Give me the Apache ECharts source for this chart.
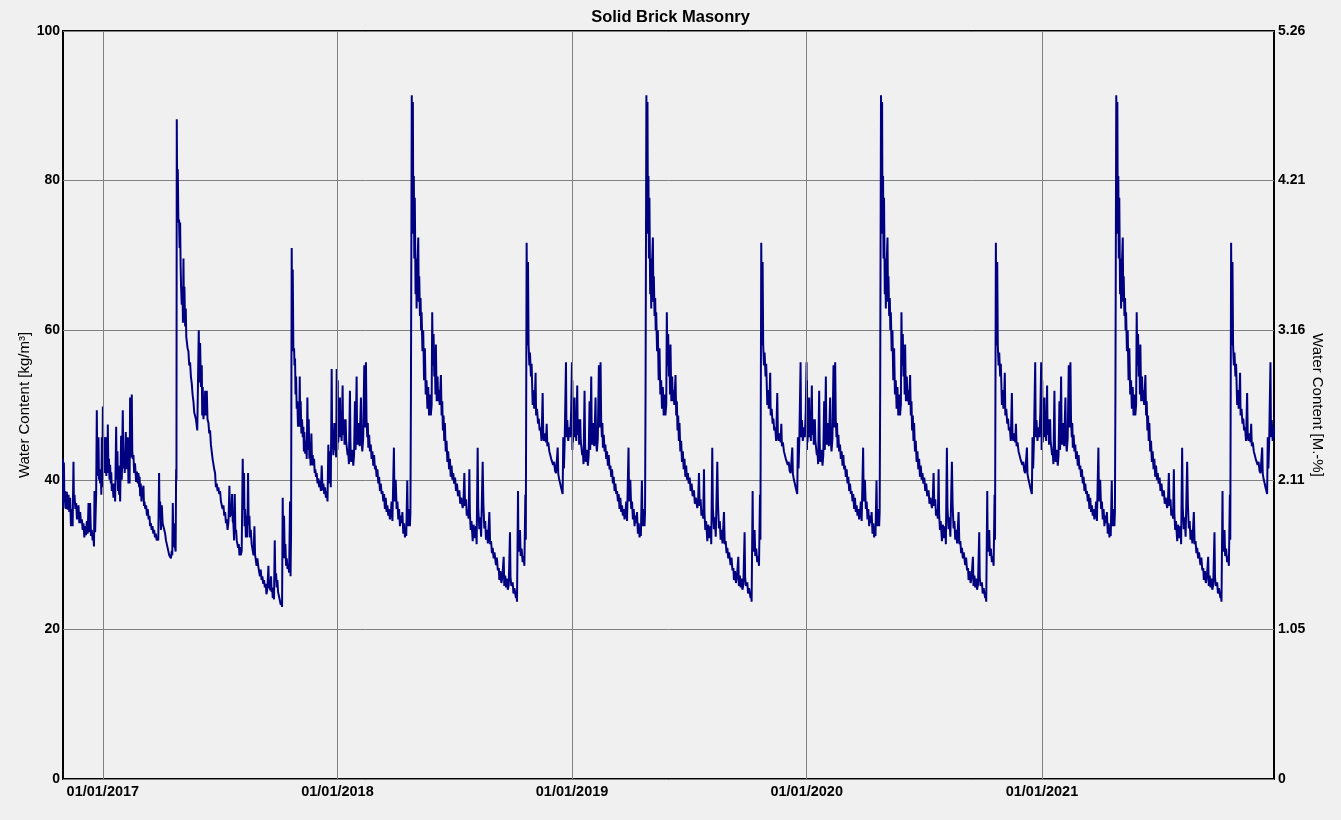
<!DOCTYPE html>
<html>
<head>
<meta charset="utf-8">
<script src="https://cdn.jsdelivr.net/npm/echarts@6/dist/echarts.min.js"></script>
<style>
html,body{margin:0;padding:0;background:#f0f0f0;}
#chart{width:1341px;height:820px;}
</style>
</head>
<body>
<div id="chart"></div>
<script>
// ---------------- DATA ----------------
const chartTitle = 'Solid Brick Masonry';
const leftAxisName = 'Water Content [kg/m³]';
const rightAxisName = 'Water Content [M.-%]';
const xStart = '2016-10-31';
const xEnd = '2021-12-28';
const yearTickDates = ['2017-01-01', '2018-01-01', '2019-01-01', '2020-01-01', '2021-01-01'];
const rightTickLabels = ['0', '1.05', '2.11', '3.16', '4.21', '5.26'];
const rightAxisMax = 5.265;

// [day of year (from 1 Jan 2017), water content kg/m³] — first simulated year (incl. Nov/Dec 2016)
const year2017 = [[-62.5,37],[-62,42.8],[-61.3,36.2],[-60.6,42.3],[-59.8,37],[-58.6,38.5],[-57.5,36.1],[-56,38.4],[-54.7,36],[-53.4,38],[-52.2,35.7],[-50.9,37.6],[-49.6,33.8],[-48.3,36.1],[-47,33.8],[-45.7,42.4],[-45,37],[-44.1,38],[-42.8,36.1],[-41.5,36.9],[-40.2,34.7],[-37.9,36.6],[-36.6,34.2],[-35.3,35.7],[-34,34.2],[-32.7,34.7],[-31.4,33.3],[-30.1,34.2],[-28.8,32.3],[-27.5,33.8],[-26.2,32.6],[-24.9,34.5],[-23.6,32.8],[-22.3,36.9],[-21.5,33],[-20.8,33.3],[-19.8,36.9],[-18.5,32.5],[-17.2,33.3],[-15.9,31.9],[-14.6,32.3],[-13.8,31.1],[-13,38.5],[-12,33],[-10.4,38.2],[-9.4,49.3],[-8.5,40.5],[-7.7,43],[-6.8,45.7],[-6,40],[-5.2,41.4],[-4.2,39.5],[-3.2,41.4],[-2.4,38],[-1.6,45.7],[-0.8,39],[0,49.8],[1,42],[2,45.7],[2.8,40.9],[3.6,44],[4.6,45.7],[5.4,40.5],[6.2,42.5],[7,40.9],[7.7,47.4],[8.6,41.5],[9.5,42.8],[10.3,40],[11.3,42],[12.4,39.5],[13.1,41],[13.9,38.5],[15.2,39.5],[16.5,37.6],[17.8,39.5],[19.1,37.1],[20.7,47.1],[21.5,40],[22.7,43.8],[23.5,38.5],[24.4,41.9],[25.3,38],[26.1,40.4],[26.9,37.1],[28.4,45.9],[29.5,40],[31,49.3],[32,41.5],[33.1,43.8],[34,40.9],[35.7,46.4],[36.5,41.4],[37.3,44.3],[38,41.4],[38.8,45.7],[39.8,39.5],[40.9,41.4],[41.6,39.5],[42.4,51],[43.5,43],[45,51.4],[45.8,43.8],[46.6,42.8],[47.6,43.3],[48.7,40.9],[50,42.2],[51.8,39.7],[53,41.1],[54.4,39.5],[55.4,40.9],[56.4,39],[57.2,40.4],[58,37.8],[59,39.5],[60.1,37.1],[61.5,38.5],[63.2,39.2],[64,36.5],[64.7,37.1],[66,36.1],[67.3,36.6],[68.6,35.2],[69.9,36.1],[71.2,34.7],[72.5,35.2],[73.5,33.8],[74.6,34.2],[75.9,33.3],[77.2,33.8],[78.5,32.8],[79.8,33.3],[81.1,32.3],[82.4,32.8],[83.7,31.9],[85,32.3],[86.2,31.9],[87.5,40.9],[88.3,35],[89.1,37.1],[90.4,33.3],[91.7,36.6],[93,34.2],[94.3,34.2],[95.6,33.3],[96.9,32.8],[98.2,31.9],[99.5,31.9],[100.8,30.9],[102,30.9],[103.3,29.9],[104.6,29.9],[105.9,29.5],[107.2,30.5],[108,29.9],[108.8,36.9],[109.8,31],[110.9,34.2],[111.7,31.4],[112.4,31.4],[113.2,30.4],[114,41.4],[114.5,40],[115,88.2],[115.8,74.8],[116.6,81.5],[117.5,74.4],[118.6,74.8],[119.4,71],[120.2,74.4],[121,68.6],[121.7,65.8],[122.7,63.4],[123.8,65.8],[124.6,61],[125.4,69.6],[126.2,62],[126.9,65.8],[128,60.5],[129,62.9],[129.8,59.1],[130.6,59.1],[131.8,57.6],[133.1,57.2],[134.4,55.3],[135.7,55.7],[137,53.8],[138.3,52.9],[139.6,51.4],[140.9,50.5],[142.2,49],[143.5,49],[144.8,48.1],[146.1,48.1],[146.9,46.6],[147.7,46.4],[149.2,60],[150.2,53],[151.3,58.3],[152.6,52.4],[153.9,55.3],[154.6,48.6],[155.4,52.4],[156.5,48.1],[157.5,49.5],[158.3,48.6],[159.1,51.9],[160.4,48.6],[161.7,51.9],[162.8,48.1],[164.3,47.6],[165.5,46.2],[166.8,46.6],[168.1,44.7],[169.4,44.7],[170.7,42.8],[172,42.8],[173.3,41.4],[174.6,40.9],[175.9,39],[177.2,39.5],[178.5,38.5],[179.8,39],[181.1,38.1],[182.4,38.5],[183.7,37.1],[185,37.3],[186.3,36.1],[187.6,36.6],[188.9,35.2],[190.2,35.7],[191.5,34.2],[192.8,34.7],[194,33.3],[195.5,34.5],[196.9,39.2],[197.8,35],[199,36.6],[200,35.2],[201.1,38.1],[202,34.5],[203.1,34.2],[204.2,31.9],[205.2,38.1],[206.2,33],[207.3,33.3],[208.3,31.9],[209.4,31.9],[210.4,30.9],[211.5,31.4],[212.5,29.9],[213.5,31],[214.5,29.9],[216,30.5],[217.6,42.8],[218.6,36],[219.7,40.9],[220.5,33.8],[221.3,36.1],[222.5,32.3],[223.9,35.2],[224.8,32.3],[225.9,40.9],[226.9,34],[228,35.2],[229,32.3],[230.1,33.3],[231.5,31.4],[233.2,31.4],[234.4,29.9],[235.8,33.8],[236.8,30],[237.9,29.9],[239.2,28.5],[240.4,29.5],[241.7,28.5],[243,28.5],[244.3,27.1],[245.6,28],[246.9,26.6],[248.2,27.1],[249.5,26.1],[250.8,26.6],[252,25.6],[253.4,26.1],[254.5,24.7],[256,25.5],[257.6,28.5],[258.4,25.5],[259.1,26.6],[260.4,25.2],[261.7,27.1],[262.5,25],[263.3,25.6],[264.3,24.2],[265.3,24.7],[266.3,24],[267.4,31.9],[268.4,26.5],[269.5,27.5],[270.5,25.6],[271.5,26.6],[272.6,25],[273.6,25.2],[274.6,24.2],[275.7,24.2],[276.8,23.3],[277.8,23.7],[278.8,23],[279.5,22.8],[279.8,37.6],[280.8,29.5],[281.9,35.2],[283,29.5],[284,31.4],[285,28.5],[286.1,29.5],[287.3,28.1],[288.6,28.5],[289.8,27.6],[291.2,37.1],[292,27.1],[292.8,32.8],[293.8,71],[294.6,57.2],[295.4,68.1],[296.4,57.2],[297.5,57.6],[298.2,55.3],[299,56.2],[299.8,51.4],[300.6,53.8],[301.6,49.5],[302.6,50.5],[303.6,47.1],[304.7,48.6],[305.5,47.1],[306.3,53.8],[307,48],[307.8,50.5],[308.8,46.2],[309.9,48.1],[311,45.7],[312,47.1],[312.8,43.8],[313.5,46.4],[314.8,43.5],[316.1,45.2],[317.2,42.8],[318.2,51],[319.2,44],[320.3,48.1],[321.3,42.8],[322.3,43.8],[323.3,41.9],[324.4,46.2],[325.5,42],[326.5,43.3],[327.5,41.9],[328.6,42.8],[329.6,40.9],[330.6,41.4],[331.6,40.4],[332.7,40.9],[334,39.5],[335.3,40.2],[336.6,39],[337.9,39.9],[339.2,38.5],[340.5,41.9],[341.8,38.6],[343.1,39.5],[344.4,38.1],[345.7,39],[347,37.6],[348.3,38.5],[349.5,37.1],[350.8,44.7],[352,39.5],[353.4,43.8],[354.6,39],[356,54.8],[356.8,45],[357.6,45.7],[358.6,43.3],[360.2,47.6],[361.2,44],[362.2,44.3],[363,43],[363.8,54.8],[364.6,45]];

// [day of year, water content kg/m³] — the simulated climate year repeats; this cycle is read for 2018–2021
const repeatedYear = [[0,44],[0.4,53.3],[1.2,45],[2.5,47.5],[3.9,51],[4.6,45.7],[5.5,47.1],[6.5,45.2],[8,52.6],[8.8,46],[10.1,48.1],[11,44.7],[12.7,48.1],[13.5,45.2],[14.8,45.2],[15.8,43.3],[16.8,43.8],[17.8,42.1],[19.4,51.9],[20.2,45.2],[21,42.4],[22.8,44],[24.6,41.9],[25.8,43.3],[27.2,50.5],[28.2,44],[29.8,53.8],[30.6,45.7],[31.3,44.7],[32.4,46],[33.4,47.6],[34.5,44.5],[36.5,51],[37.4,45.2],[38.6,43.8],[40,45.5],[41.7,55.3],[42.8,47],[44.3,55.7],[45.2,48.1],[46.4,45.7],[47.2,47.6],[48,44.3],[49.3,46],[50.5,43.8],[51.8,44.7],[53.1,42.8],[54.4,43.8],[55.7,41.9],[57,43.3],[58.3,41.4],[59.6,41.9],[60.9,40.4],[62.2,41.4],[63.5,39.5],[64.8,40.4],[66.1,38.5],[67.4,39.5],[68.7,38.1],[70,38.5],[71.3,37.1],[72.5,38.1],[73.8,36.1],[75.1,37.6],[76.4,35.7],[77.7,36.6],[79,35.2],[80.3,36.1],[81.6,34.7],[83,35.5],[84.2,37.1],[85.5,34.5],[87.8,44.3],[88.6,38],[89.4,37.1],[90.6,40],[92,36.1],[93.3,37.1],[94.6,34.7],[95.9,36.1],[97.2,33.8],[98.5,35.2],[99.8,34.2],[101,35.7],[102.4,32.8],[103.7,34.2],[105,32.3],[106,33.3],[107,32.5],[108.6,39.9],[109.4,35],[110.1,33.8],[111.4,36.1],[112.7,33.8],[113.5,35.7],[114.3,51.4],[115.6,91.4],[116.5,78],[117.3,90.5],[118,72.9],[118.8,80.6],[119.5,69.6],[120.3,77.7],[121.5,64.8],[122.3,69.6],[123.1,62.9],[124,67.7],[125.7,72.4],[126.5,63.8],[127.2,67.2],[128.3,61.9],[129.3,64.3],[130.1,60],[130.9,62.4],[132.2,57.2],[133.4,60],[134.7,53.3],[136,57.6],[137.3,51.4],[138.6,53.3],[139.9,49.5],[141.2,52.4],[142.5,48.6],[143.8,51.4],[145.2,48.6],[146.5,50],[147.4,62.4],[148.4,55.3],[149.5,59.5],[150.6,53.8],[151.6,56.2],[152.4,51.4],[153.1,58.1],[154.4,50.5],[155.7,53.8],[156.8,50.5],[157.8,52],[159,50],[160.9,54],[162,48.6],[163,50.5],[164,46.6],[165.1,48.6],[166.1,45.2],[167.1,47.6],[168.4,43.8],[169.7,45.2],[171,42.4],[172.3,43.8],[173.6,41.4],[174.9,42.8],[176.2,40.4],[177.5,41.9],[178.8,40],[180.1,40.9],[181.5,39.5],[183,40.3],[184.4,38.5],[186,39.5],[187.5,37.8],[189.6,38.6],[191,36.8],[192.5,37.6],[194.8,36.2],[196,37],[197.4,40.9],[198.5,36.5],[200,37.4],[201.2,35.2],[202.5,36],[204,34.8],[205.2,41.4],[206,35.5],[207.3,33.3],[208.5,34.5],[210.4,31.8],[211.8,34],[213.2,32.2],[215.5,33.8],[216.5,31.4],[218.1,44.3],[219,36.3],[220.7,33.4],[222,35],[223.5,32.4],[225.9,42.4],[227,36.8],[228.5,33.5],[229.8,34.5],[231.1,32],[232.5,33.3],[234,31.5],[236.3,35.7],[237.5,31.4],[239,31.8],[240.3,30.2],[241.5,30.9],[243,29.5],[244.3,30.3],[246.6,28.6],[248,29.6],[249.5,27.9],[251,28.2],[251.8,26.6],[253.5,27.8],[255,26.2],[256.5,27],[258.6,29.7],[259.5,25.8],[261,27.2],[262.2,25.6],[263.5,26.8],[265,25.3],[266.5,26],[268.4,33],[269.2,27],[270.5,25.8],[272.6,26.3],[273.8,24.8],[275.3,25.5],[277.7,24.2],[278.5,24.8],[279.3,23.7],[280.9,38.5],[281.6,30.4],[282.5,31],[284,33.3],[285,29.8],[286.5,30.8],[288.1,29],[289.5,29.8],[290.8,28.5],[292.3,38],[293,32],[294.3,71.7],[295.2,58],[296.4,69.1],[297.3,58.1],[298.5,55.3],[299.5,57],[301,53.8],[302,55.5],[303.7,50],[305,52],[306,49.5],[307,50.5],[308.2,54.3],[309,48.6],[310.5,49.5],[312,47.5],[313.2,48.2],[314.5,46.6],[316,47],[317.5,45.2],[319.2,51.6],[320.2,45.7],[321.5,45.2],[323,46.2],[324.4,45],[325.5,47.5],[326.5,44.5],[328,45],[329.6,43.8],[331,44],[332.5,42.8],[334,43],[335.5,42],[337,42.4],[338.5,41.2],[340,40.9],[342.6,44.3],[343.5,40.8],[345.1,40],[346.5,39.5],[348,38.9],[350.3,38.1],[351.3,45.7],[352.3,41.5],[353.5,45.2],[355.5,55.7],[356.3,45.7],[357.5,48],[359,45.2],[360.7,47],[362,45.7],[363.5,49],[364.8,55.7],[365.5,44]];

const simulatedYears = [2018, 2019, 2020, 2021];

// ---------------- BUILD ----------------
const DAY = 86400000;
const ts = s => { const p = s.split('-').map(Number); return Date.UTC(p[0], p[1] - 1, p[2]); };
const toPoints = (year, arr) => arr.map(p => [Date.UTC(year, 0, 1) + p[0] * DAY, p[1]]);
let seriesData = toPoints(2017, year2017);
simulatedYears.forEach(y => { seriesData = seriesData.concat(toPoints(y, repeatedYear)); });
const yearTicks = yearTickDates.map(ts);
const pad = n => (n < 10 ? '0' : '') + n;
const fmtDate = v => { const d = new Date(v); return pad(d.getUTCDate()) + '/' + pad(d.getUTCMonth() + 1) + '/' + d.getUTCFullYear(); };

const FONT = '"Liberation Sans", Arial, sans-serif';
const chart = echarts.init(document.getElementById('chart'), null, { renderer: 'canvas' });
chart.setOption({
  backgroundColor: '#f0f0f0',
  animation: false,
  title: {
    text: chartTitle, left: 'center', top: 4,
    textStyle: { fontFamily: FONT, fontSize: 16.5, fontWeight: 'bold', color: '#000' }
  },
  grid: { left: 63, right: 67, top: 31, bottom: 41, show: true, borderColor: '#000', borderWidth: 2, backgroundColor: 'transparent' },
  xAxis: {
    type: 'value', min: ts(xStart), max: ts(xEnd), scale: true,
    axisLine: { show: false }, axisTick: { show: false }, splitLine: { show: false },
    axisLabel: {
      customValues: yearTicks, formatter: v => fmtDate(v), margin: 5,
      fontFamily: FONT, fontSize: 14.5, fontWeight: 'bold', color: '#000'
    }
  },
  yAxis: [{
    type: 'value', min: 0, max: 100, interval: 20, position: 'left',
    name: leftAxisName, nameLocation: 'middle', nameGap: 31, nameRotate: 90, nameMoveOverlap: false,
    nameTextStyle: { fontFamily: FONT, fontSize: 15, color: '#000' },
    axisLine: { show: false }, axisTick: { show: false },
    axisLabel: { margin: 3, fontFamily: FONT, fontSize: 14, fontWeight: 'bold', color: '#000' },
    splitLine: { show: true, lineStyle: { color: '#808080', width: 1 } }
  }, {
    type: 'value', min: 0, max: rightAxisMax, interval: rightAxisMax / 5, position: 'right',
    name: rightAxisName, nameLocation: 'middle', nameGap: 36, nameRotate: -90, nameMoveOverlap: false,
    nameTextStyle: { fontFamily: FONT, fontSize: 15, color: '#000' },
    axisLine: { show: false }, axisTick: { show: false },
    axisLabel: {
      margin: 4, fontFamily: FONT, fontSize: 14, fontWeight: 'bold', color: '#000',
      formatter: v => rightTickLabels[Math.round(v / (rightAxisMax / 5))]
    },
    splitLine: { show: false }
  }],
  series: [{
    type: 'line', data: [], z: 1, silent: true,
    markLine: {
      silent: true, symbol: 'none', animation: false,
      label: { show: false },
      lineStyle: { color: '#808080', width: 1, type: 'solid' },
      data: yearTicks.map(t => ({ xAxis: t }))
    }
  }, {
    type: 'line', data: seriesData, z: 3,
    showSymbol: false, symbol: 'none', clip: true,
    lineStyle: { color: '#000080', width: 2 }
  }]
});
</script>
</body>
</html>
